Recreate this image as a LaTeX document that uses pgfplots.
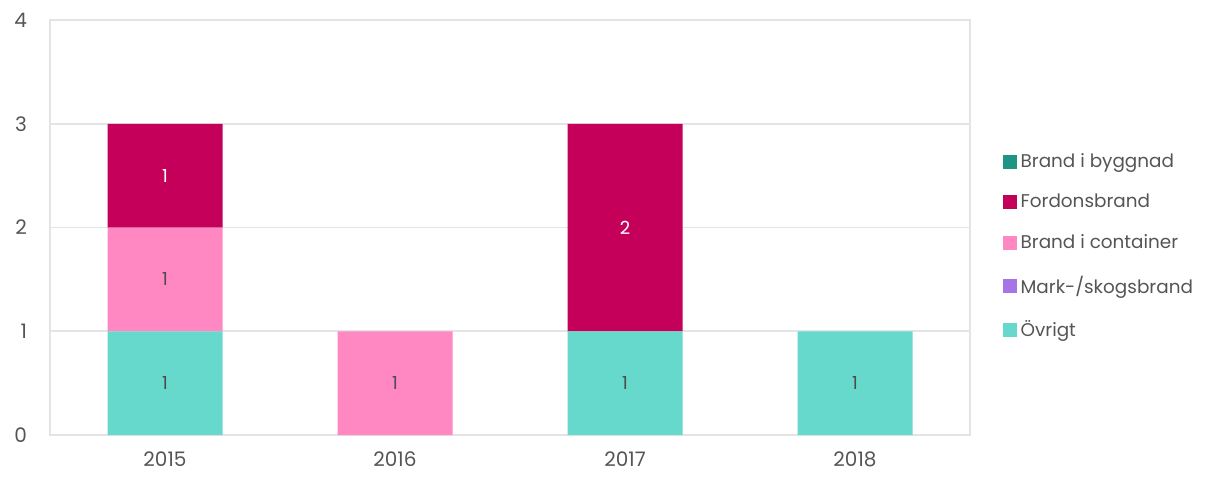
\documentclass[border=0pt]{standalone}
\usepackage{pgfplots}
\pgfplotsset{compat=1.18}
\usepackage{fontspec}
\setmainfont{Poppins}
\definecolor{cByg}{HTML}{1E9484}
\definecolor{cFord}{HTML}{C4005A}
\definecolor{cCont}{HTML}{FF88C2}
\definecolor{cMark}{HTML}{A774E6}
\definecolor{cOvr}{HTML}{66D9CC}
\definecolor{txt}{HTML}{555555}
\definecolor{gridc}{HTML}{E4E4E4}
\begin{document}
\begin{tikzpicture}
\path[use as bounding box] (0,0) rectangle (605pt,239pt);
\begin{axis}[
  at={(25pt,21.5pt)}, anchor=south west,
  scale only axis, width=460pt, height=207.5pt,
  ybar stacked, bar width=57.5pt,
  xmin=-0.5, xmax=3.5, ymin=0, ymax=4,
  xtick={0,1,2,3}, xticklabels={2015,2016,2017,2018},
  ytick={0,1,2,3,4},
  major tick length=0pt,
  ymajorgrids, grid style={gridc, line width=0.8pt},
  axis line style={gridc, line width=0.8pt},
  tick label style={font=\fontsize{10}{12}\selectfont, text=txt},
  /pgf/number format/assume math mode=true,
  xticklabel style={yshift=-5pt},
  yticklabel style={xshift=-8pt},
  reverse legend,
  legend style={draw=none, at={(1.035,0.69)}, anchor=north west,
    font=\fontsize{9.2}{11}\selectfont, text=txt, row sep=8pt,
    legend cell align=left, inner sep=0pt,
    nodes={inner sep=2pt}},
  legend image code/.code={\fill[#1] (0pt,-3.5pt) rectangle (7pt,3.5pt);},
  point meta=rawy,
  nodes near coords={\pgfmathfloatifflags{\pgfplotspointmeta}{0}{}{\pgfmathprintnumber{\pgfplotspointmeta}}},
  every node near coord/.append style={anchor=center, font=\fontsize{9}{10}\selectfont},
]
\addplot[fill=cOvr, draw=none, nodes near coords style={text=black!70}] coordinates {(0,1) (1,0) (2,1) (3,1)};
\addlegendentry{Övrigt}
\addplot[fill=cMark, draw=none, nodes near coords style={text=black!70}] coordinates {(0,0) (1,0) (2,0) (3,0)};
\addlegendentry{Mark-/skogsbrand}
\addplot[fill=cCont, draw=none, nodes near coords style={text=black!70}] coordinates {(0,1) (1,1) (2,0) (3,0)};
\addlegendentry{Brand i container}
\addplot[fill=cFord, draw=none, nodes near coords style={text=white}] coordinates {(0,1) (1,0) (2,2) (3,0)};
\addlegendentry{Fordonsbrand}
\addplot[fill=cByg, draw=none, nodes near coords style={text=white}] coordinates {(0,0) (1,0) (2,0) (3,0)};
\addlegendentry{Brand i byggnad}
\end{axis}
\end{tikzpicture}
\end{document}
